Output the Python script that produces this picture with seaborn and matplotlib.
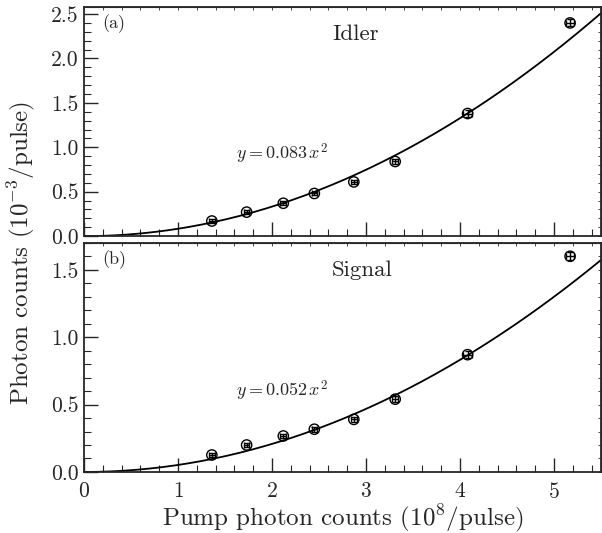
import numpy as np
import matplotlib
matplotlib.use("Agg")
import matplotlib.pyplot as plt
import seaborn as sns
from matplotlib.ticker import MultipleLocator, FormatStrFormatter

# pump photon counts (10^8/pulse)
pump = [1.36, 1.73, 2.12, 2.45, 2.87, 3.31, 4.08, 5.17]
# idler / signal counts (10^-3/pulse)
idler = [0.17, 0.27, 0.37, 0.48, 0.61, 0.84, 1.38, 2.40]
signal = [0.126, 0.20, 0.267, 0.317, 0.39, 0.54, 0.87, 1.60]
xerr = [0.03, 0.03, 0.03, 0.03, 0.03, 0.03, 0.05, 0.04]
idler_err = [0.02, 0.02, 0.02, 0.02, 0.025, 0.025, 0.04, 0.04]
signal_err = [0.015, 0.015, 0.015, 0.02, 0.02, 0.02, 0.025, 0.03]
fit_idler = 0.083
fit_signal = 0.052

sns.set_style("ticks")
plt.rcParams['font.family'] = ['serif']
plt.rcParams['font.serif'] = ['cmr10', 'DejaVu Serif']
plt.rcParams['mathtext.fontset'] = 'cm'
plt.rcParams['axes.formatter.use_mathtext'] = True
plt.rcParams['axes.unicode_minus'] = False

fig = plt.figure(figsize=(6.02, 5.33), dpi=100)
ax1 = fig.add_axes([0.1395, 0.557, 0.859, 0.430])
ax2 = fig.add_axes([0.1395, 0.1145, 0.859, 0.430])

xfit = np.linspace(0, 5.5, 200)

panels = [
    (ax1, idler, idler_err, fit_idler, "(a)", "Idler", 2.58, r"$y = 0.083\,x^2$", 0.93),
    (ax2, signal, signal_err, fit_signal, "(b)", "Signal", 1.70, r"$y = 0.052\,x^2$", 0.60),
]

for ax, yv, yerr, k, tag, name, ytop, eq, eqy in panels:
    sns.lineplot(x=xfit, y=k * xfit ** 2, ax=ax, color='black', lw=1.3)
    ax.errorbar(pump, yv, xerr=xerr, yerr=yerr, fmt='none', ecolor='black',
                elinewidth=1.0, capsize=2.0, capthick=1.0)
    sns.scatterplot(x=pump, y=yv, ax=ax, marker='o', s=55, facecolors='none',
                    edgecolor='black', linewidth=1.0, zorder=5)
    ax.set_xlim(0, 5.5)
    ax.set_ylim(0, ytop)
    ax.xaxis.set_major_locator(MultipleLocator(1))
    ax.xaxis.set_minor_locator(MultipleLocator(0.2))
    ax.yaxis.set_major_locator(MultipleLocator(0.5))
    ax.yaxis.set_minor_locator(MultipleLocator(0.1))
    ax.yaxis.set_major_formatter(FormatStrFormatter('%.1f'))
    ax.tick_params(which='both', direction='in', labelsize=15.5)
    ax.tick_params(which='major', length=10, width=1.0)
    ax.tick_params(which='minor', length=5, width=0.8)
    ax.tick_params(axis='x', which='major', pad=7)
    ax.tick_params(axis='y', which='major', pad=4)
    # tiny ticks on the top and right edges
    top = ax.secondary_xaxis('top')
    top.set_xticks(np.arange(0, 5.6, 0.2), labels=[])
    top.tick_params(direction='in', length=2, width=0.6)
    right = ax.secondary_yaxis('right')
    right.set_yticks(np.arange(0, ytop, 0.1), labels=[])
    right.tick_params(direction='in', length=2, width=0.6)
    for sp in ax.spines.values():
        sp.set_linewidth(1.3)
    ax.text(0.035, 0.925, tag, transform=ax.transAxes, fontsize=13, va='center')
    ax.text(0.48, 0.88, name, transform=ax.transAxes, fontsize=16.5, va='center')
    ax.text(1.62, eqy, eq, fontsize=13, va='center')

ax1.tick_params(labelbottom=False)
fig.text(0.035, 0.525, r"Photon counts ($10^{-3}$/pulse)", rotation=90,
         fontsize=18, ha='center', va='center')
fig.text(0.57, 0.027, r"Pump photon counts ($10^{8}$/pulse)",
         fontsize=18, ha='center', va='center')

fig.savefig("out.png", dpi=100)
